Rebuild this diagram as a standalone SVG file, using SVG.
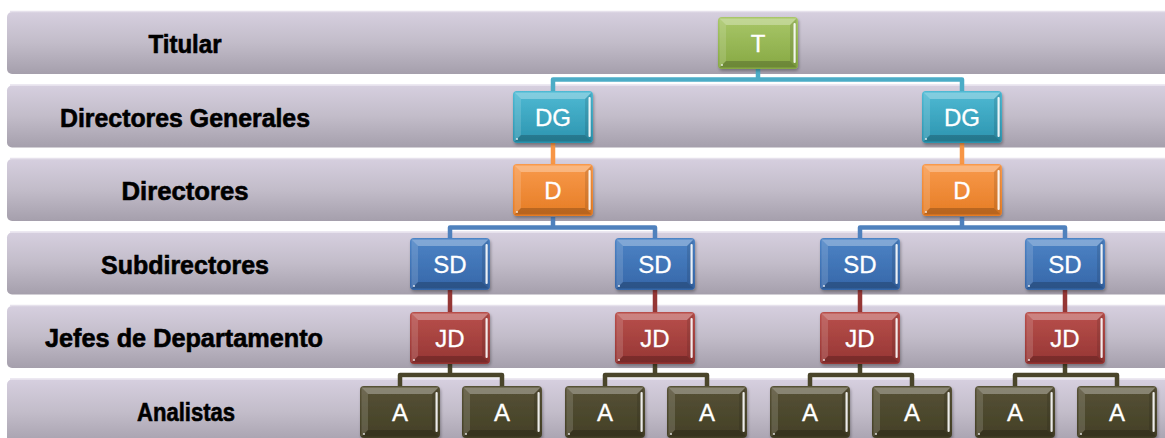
<svg xmlns="http://www.w3.org/2000/svg" xmlns:xlink="http://www.w3.org/1999/xlink" width="1165" height="438" viewBox="0 0 1165 438">
<defs>
<linearGradient id="gBand" x1="0" y1="0" x2="0" y2="1">
<stop offset="0" stop-color="#d6cfdf"/><stop offset="0.5" stop-color="#c2bcc9"/><stop offset="1" stop-color="#a59fac"/>
</linearGradient>
<linearGradient id="gT" x1="0" y1="0" x2="0" y2="1"><stop offset="0" stop-color="#a9c769"/><stop offset="1" stop-color="#86a843"/></linearGradient>
<linearGradient id="gDG" x1="0" y1="0" x2="0" y2="1"><stop offset="0" stop-color="#4fbad4"/><stop offset="1" stop-color="#2b93ae"/></linearGradient>
<linearGradient id="gD" x1="0" y1="0" x2="0" y2="1"><stop offset="0" stop-color="#f99a4c"/><stop offset="1" stop-color="#e57c24"/></linearGradient>
<linearGradient id="gSD" x1="0" y1="0" x2="0" y2="1"><stop offset="0" stop-color="#4d84c6"/><stop offset="1" stop-color="#3566a8"/></linearGradient>
<linearGradient id="gJD" x1="0" y1="0" x2="0" y2="1"><stop offset="0" stop-color="#b9504c"/><stop offset="1" stop-color="#953533"/></linearGradient>
<linearGradient id="gA" x1="0" y1="0" x2="0" y2="1"><stop offset="0" stop-color="#575236"/><stop offset="1" stop-color="#433f26"/></linearGradient>
<filter id="sh" x="-10%" y="-10%" width="130%" height="140%">
<feDropShadow dx="1" dy="2" stdDeviation="1.5" flood-color="#000" flood-opacity="0.3"/>
</filter>
<g id="bevel">
<polygon points="1.5,1.5 78.5,1.5 72,8 8,8" fill="#fff" opacity="0.3"/>
<polygon points="1.5,1.5 8,8 8,44 1.5,50.5" fill="#fff" opacity="0.14"/>
<polygon points="1.5,50.5 78.5,50.5 72,44 8,44" fill="#000" opacity="0.2"/>
<polygon points="78.5,1.5 72,8 72,44 78.5,50.5" fill="#000" opacity="0.1"/>
<rect x="75.5" y="6" width="2.2" height="40" rx="1" fill="#fff" opacity="0.9"/>
<circle cx="4" cy="48" r="1" fill="#fff" opacity="0.8"/>
</g>
</defs>
<style>
.band{fill:url(#gBand);}
.bandTop{fill:none;stroke:#e6e1ec;stroke-width:1.5;}
.lbl{font-family:"Liberation Sans",Arial,sans-serif;font-weight:bold;font-size:25.5px;fill:#000;stroke:#000;stroke-width:0.6;text-anchor:middle;}
.nt{font-family:"Liberation Sans",Arial,sans-serif;font-size:24px;fill:#fff;stroke:#fff;stroke-width:0.3;text-anchor:middle;}
.box{filter:url(#sh);}
.c{fill:none;stroke-width:4.5;stroke-linejoin:round;}
</style>
<rect x="0" y="0" width="1165" height="438" fill="#fff"/>

<g id="row-titular">
<rect class="band" x="7" y="12" width="1170" height="62" rx="5"/>
<line class="bandTop" x1="10" y1="11.5" x2="1165" y2="11.5"/>
<text class="lbl" x="185" y="53" textLength="73" lengthAdjust="spacingAndGlyphs">Titular</text>
</g>
<g id="row-dg">
<rect class="band" x="7" y="85.5" width="1170" height="62" rx="5"/>
<line class="bandTop" x1="10" y1="85" x2="1165" y2="85"/>
<text class="lbl" x="185" y="127" textLength="250" lengthAdjust="spacingAndGlyphs">Directores Generales</text>
</g>
<g id="row-d">
<rect class="band" x="7" y="159" width="1170" height="62" rx="5"/>
<line class="bandTop" x1="10" y1="158.5" x2="1165" y2="158.5"/>
<text class="lbl" x="185" y="200" textLength="127" lengthAdjust="spacingAndGlyphs">Directores</text>
</g>
<g id="row-sd">
<rect class="band" x="7" y="232.5" width="1170" height="62" rx="5"/>
<line class="bandTop" x1="10" y1="232" x2="1165" y2="232"/>
<text class="lbl" x="185" y="274" textLength="168" lengthAdjust="spacingAndGlyphs">Subdirectores</text>
</g>
<g id="row-jd">
<rect class="band" x="7" y="306" width="1170" height="62" rx="5"/>
<line class="bandTop" x1="10" y1="305.5" x2="1165" y2="305.5"/>
<text class="lbl" x="184" y="347" textLength="278" lengthAdjust="spacingAndGlyphs">Jefes de Departamento</text>
</g>
<g id="row-a">
<rect class="band" x="7" y="379.5" width="1170" height="66" rx="5"/>
<line class="bandTop" x1="10" y1="379" x2="1165" y2="379"/>
<text class="lbl" x="186" y="421" textLength="98" lengthAdjust="spacingAndGlyphs">Analistas</text>
</g>

<g id="connectors">
<path class="c" stroke="#4bacc6" d="M758,69 V79.5 M553,91 V79.5 H962 V91"/>
<path class="c" stroke="#f79646" d="M553,143 V164 M962,143 V164"/>
<path class="c" stroke="#4f81bd" d="M553,217 V227.5 M450,238 V227.5 H655 V238 M962,217 V227.5 M860,238 V227.5 H1065 V238"/>
<path class="c" stroke="#953735" d="M450,290 V312 M655,290 V312 M860,290 V312 M1065,290 V312"/>
<path class="c" stroke="#4a452a" d="M450,364 V375 M400,386 V375 H502 V386 M655,364 V375 M605,386 V375 H707 V386 M860,364 V375 M810,386 V375 H912 V386 M1065,364 V375 M1015,386 V375 H1117 V386"/>
</g>

<g id="n-T" transform="translate(718,17)"><rect class="box" width="80" height="52" rx="4" fill="url(#gT)"/><use href="#bevel"/><text class="nt" x="40" y="35">T</text></g>
<g id="n-DG1" transform="translate(513,91)"><rect class="box" width="80" height="52" rx="4" fill="url(#gDG)"/><use href="#bevel"/><text class="nt" x="40" y="35">DG</text></g>
<g id="n-DG2" transform="translate(922,91)"><rect class="box" width="80" height="52" rx="4" fill="url(#gDG)"/><use href="#bevel"/><text class="nt" x="40" y="35">DG</text></g>
<g id="n-D1" transform="translate(513,164)"><rect class="box" width="80" height="52" rx="4" fill="url(#gD)"/><use href="#bevel"/><text class="nt" x="40" y="35">D</text></g>
<g id="n-D2" transform="translate(922,164)"><rect class="box" width="80" height="52" rx="4" fill="url(#gD)"/><use href="#bevel"/><text class="nt" x="40" y="35">D</text></g>
<g id="n-SD1" transform="translate(410,238)"><rect class="box" width="80" height="52" rx="4" fill="url(#gSD)"/><use href="#bevel"/><text class="nt" x="40" y="35">SD</text></g>
<g id="n-SD2" transform="translate(615,238)"><rect class="box" width="80" height="52" rx="4" fill="url(#gSD)"/><use href="#bevel"/><text class="nt" x="40" y="35">SD</text></g>
<g id="n-SD3" transform="translate(820,238)"><rect class="box" width="80" height="52" rx="4" fill="url(#gSD)"/><use href="#bevel"/><text class="nt" x="40" y="35">SD</text></g>
<g id="n-SD4" transform="translate(1025,238)"><rect class="box" width="80" height="52" rx="4" fill="url(#gSD)"/><use href="#bevel"/><text class="nt" x="40" y="35">SD</text></g>
<g id="n-JD1" transform="translate(410,312)"><rect class="box" width="80" height="52" rx="4" fill="url(#gJD)"/><use href="#bevel"/><text class="nt" x="40" y="35">JD</text></g>
<g id="n-JD2" transform="translate(615,312)"><rect class="box" width="80" height="52" rx="4" fill="url(#gJD)"/><use href="#bevel"/><text class="nt" x="40" y="35">JD</text></g>
<g id="n-JD3" transform="translate(820,312)"><rect class="box" width="80" height="52" rx="4" fill="url(#gJD)"/><use href="#bevel"/><text class="nt" x="40" y="35">JD</text></g>
<g id="n-JD4" transform="translate(1025,312)"><rect class="box" width="80" height="52" rx="4" fill="url(#gJD)"/><use href="#bevel"/><text class="nt" x="40" y="35">JD</text></g>
<g id="n-A1" transform="translate(360,386)"><rect class="box" width="80" height="52" rx="4" fill="url(#gA)"/><use href="#bevel"/><text class="nt" x="40" y="35">A</text></g>
<g id="n-A2" transform="translate(462,386)"><rect class="box" width="80" height="52" rx="4" fill="url(#gA)"/><use href="#bevel"/><text class="nt" x="40" y="35">A</text></g>
<g id="n-A3" transform="translate(565,386)"><rect class="box" width="80" height="52" rx="4" fill="url(#gA)"/><use href="#bevel"/><text class="nt" x="40" y="35">A</text></g>
<g id="n-A4" transform="translate(667,386)"><rect class="box" width="80" height="52" rx="4" fill="url(#gA)"/><use href="#bevel"/><text class="nt" x="40" y="35">A</text></g>
<g id="n-A5" transform="translate(770,386)"><rect class="box" width="80" height="52" rx="4" fill="url(#gA)"/><use href="#bevel"/><text class="nt" x="40" y="35">A</text></g>
<g id="n-A6" transform="translate(872,386)"><rect class="box" width="80" height="52" rx="4" fill="url(#gA)"/><use href="#bevel"/><text class="nt" x="40" y="35">A</text></g>
<g id="n-A7" transform="translate(975,386)"><rect class="box" width="80" height="52" rx="4" fill="url(#gA)"/><use href="#bevel"/><text class="nt" x="40" y="35">A</text></g>
<g id="n-A8" transform="translate(1077,386)"><rect class="box" width="80" height="52" rx="4" fill="url(#gA)"/><use href="#bevel"/><text class="nt" x="40" y="35">A</text></g>
</svg>
